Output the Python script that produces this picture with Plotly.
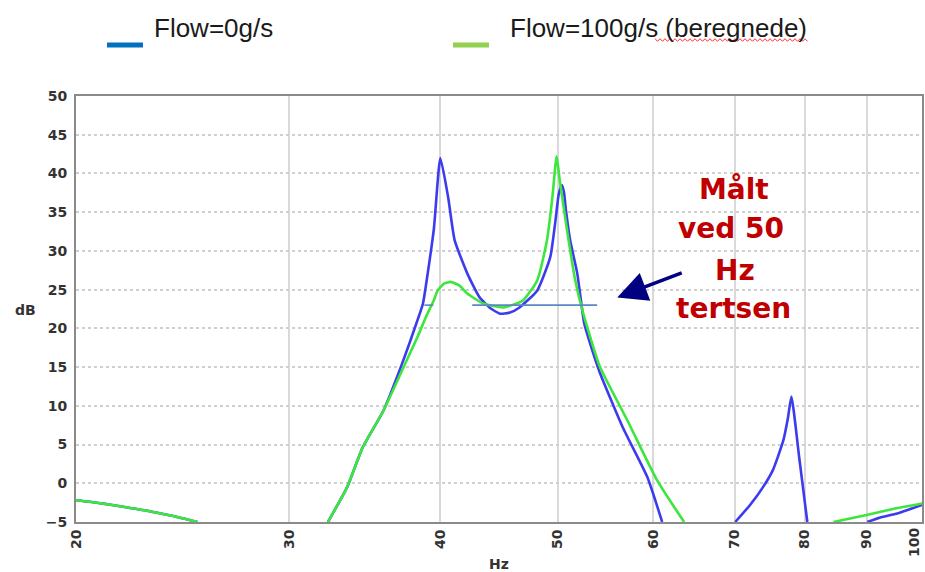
import numpy as np
import plotly.graph_objects as go

# ---------------- data ----------------
# Flow = 0 g/s (measured) - segments separated by None where curve is below -5 dB
flow0_hz = [20, 21, 22, 23, 24, 25.2, None,
            32.3, 33.5, 34.5, 35.9, 37.1, 37.8, 38.5, 38.7, 39.5, 40.0, 40.6, 41.1, 42.1,
            43.1, 44.0, 44.8, 45.6, 46.5, 48.1, 49.3, 49.8, 50.1, 50.4, 50.6, 50.8, 51.2,
            51.9, 52.6, 53.4, 54.2, 56.6, 59.3, 61.0, None,
            70.1, 72.1, 73.9, 75.3, 76.8, 77.5, 78.0, 79.2, 80.4, None,
            90.1, 92.5, 95.4, 100]
flow0_db = [-2.2, -2.6, -3.1, -3.6, -4.2, -5.0, None,
            -5.0, -0.5, 4.6, 9.4, 15.0, 18.5, 22.1, 23.2, 32.7, 42.0, 36.9, 31.4, 27.1,
            24.0, 22.6, 21.9, 22.0, 22.7, 24.9, 29.2, 34.0, 37.3, 38.5, 37.6, 35.2, 31.4,
            27.1, 20.6, 17.2, 14.2, 7.2, 0.8, -5.0, None,
            -5.0, -2.8, -0.5, 1.7, 5.5, 8.5, 11.2, 3.1, -5.0, None,
            -5.0, -4.4, -3.9, -2.8]

# Flow = 100 g/s (calculated)
flow100_hz = [20, 21, 22, 23, 24, 25.2, None,
              32.3, 33.5, 34.5, 35.9, 37.1, 38.3, 38.9, 39.5, 39.8, 40.3, 40.8, 41.5, 42.1,
              43.4, 45.1, 46.8, 48.1, 49.0, 49.5, 49.9, 50.2, 50.9, 51.7, 52.5, 54.2,
              57.1, 60.4, 63.6, None,
              84.5, 90.0, 95.4, 100]
flow100_db = [-2.2, -2.6, -3.1, -3.6, -4.2, -5.0, None,
              -5.0, -0.5, 4.6, 9.4, 14.2, 18.9, 21.4, 23.6, 24.9, 25.8, 26.0, 25.5, 24.5,
              23.2, 22.7, 23.6, 26.2, 31.4, 36.9, 42.2, 39.1, 32.7, 26.2, 21.9, 15.0,
              8.1, 0.4, -5.0, None,
              -5.0, -4.1, -3.2, -2.6]

# 1/3-octave level measured at 50 Hz
level_hz = [42.5, 53.9]
level_db = [23.0, 23.0]
level_dash_hz = [38.8, 39.9]
level_dash_db = [23.0, 23.0]

x_ticks = [20, 30, 40, 50, 60, 70, 80, 90, 100]
x_ticklabels = ["20", "30", "40", "50", "60", "70", "80", "90", "100"]
y_ticks = list(range(-5, 55, 5))

legend_names = ["Flow=0g/s", "Flow=100g/s (beregnede)"]
note_lines = ["Målt", "ved 50", "Hz", "tertsen"]
arrow_tip = (56.0, 24.0)

# ---------------- figure ----------------
W, H = 925, 572
ML, MR, MT, MB = 76, 3, 96, 50
PW, PH = W - ML - MR, H - MT - MB


def px_to_paper(px, py):
    return (px - ML) / PW, (H - MB - py) / PH


fig = go.Figure()
fig.add_trace(go.Scatter(x=flow0_hz, y=flow0_db, mode="lines",
                         line=dict(color="#3c3cee", width=2.6, shape="spline", smoothing=0.5),
                         connectgaps=False, showlegend=False))
fig.add_trace(go.Scatter(x=flow100_hz, y=flow100_db, mode="lines",
                         line=dict(color="#3ce63c", width=2.6, shape="spline", smoothing=0.5),
                         connectgaps=False, showlegend=False))
fig.add_trace(go.Scatter(x=level_hz, y=level_db, mode="lines",
                         line=dict(color="#5b87c5", width=1.6), showlegend=False))
fig.add_trace(go.Scatter(x=level_dash_hz, y=level_dash_db, mode="lines",
                         line=dict(color="#5b87c5", width=1.6, dash="dash"), showlegend=False))

# the last tick label (at the very right edge) is drawn as an annotation so it stays inside
axis_ticktext = x_ticklabels[:-1] + [""]
tickfont = dict(family="DejaVu Sans", size=14, color="#333333", weight="bold")

fig.update_xaxes(type="log", range=[np.log10(20), np.log10(100)],
                 tickvals=x_ticks, ticktext=axis_ticktext, tickangle=-90,
                 tickfont=tickfont, automargin=False,
                 showgrid=True, gridcolor="#d9d9d9", gridwidth=1.5,
                 showline=True, linecolor="#8a8a8a", linewidth=2, mirror=True,
                 ticks="", zeroline=False)
fig.update_yaxes(range=[-5, 50], tickvals=y_ticks, automargin=False,
                 tickfont=tickfont,
                 showgrid=True, gridcolor="#cfcfcf", gridwidth=1.5, griddash="dot",
                 showline=True, linecolor="#8a8a8a", linewidth=2, mirror=True,
                 ticks="", zeroline=False, ticklabelstandoff=4)

annotations = []
shapes = []

lx, ly = px_to_paper(914, 543)
annotations.append(dict(xref="paper", yref="paper", x=lx, y=ly, text=f"<b>{x_ticklabels[-1]}</b>",
                        textangle=-90, showarrow=False, xanchor="center", yanchor="middle",
                        font=dict(family="DejaVu Sans", size=14, color="#333333")))

# legend (custom, text above-right of the swatch)
legend_colors = ["#0070c0", "#92d050"]
legend_swatch_px = [(107, 143), (453, 489)]
legend_text_px = [152, 508]
for name, col, (sx0, sx1), tx in zip(legend_names, legend_colors, legend_swatch_px, legend_text_px):
    x0, y0 = px_to_paper(sx0, 45)
    x1, _ = px_to_paper(sx1, 45)
    shapes.append(dict(type="line", xref="paper", yref="paper", x0=x0, x1=x1, y0=y0, y1=y0,
                       line=dict(color=col, width=5)))
    txp, typ = px_to_paper(tx, 28)
    annotations.append(dict(xref="paper", yref="paper", x=txp, y=typ, xanchor="left",
                            yanchor="middle", text=name, showarrow=False,
                            font=dict(family="Liberation Sans, Arial", size=26, color="#1a1a1a")))

# red spell-check squiggle under "beregnede"
pts = []
for i, px in enumerate(np.arange(655, 809, 2.5)):
    py = 40 + (1.3 if i % 2 else -1.3)
    pxp, pyp = px_to_paper(px, py)
    pts.append(f"{pxp:.5f},{pyp:.5f}")
shapes.append(dict(type="path", xref="paper", yref="paper",
                   path="M" + " L".join(pts), line=dict(color="#ff3030", width=1)))

# axis titles
dbx, dby = px_to_paper(25, 310)
annotations.append(dict(xref="paper", yref="paper", x=dbx, y=dby, text="<b>dB</b>",
                        showarrow=False, xanchor="center", yanchor="middle",
                        font=dict(family="DejaVu Sans", size=14, color="#333333")))
hzx, hzy = px_to_paper(499, 564)
annotations.append(dict(xref="paper", yref="paper", x=hzx, y=hzy, text="<b>Hz</b>",
                        showarrow=False, xanchor="center", yanchor="middle",
                        font=dict(family="DejaVu Sans", size=14, color="#333333")))

# red note
note_pos = [(734, 189), (731, 229), (735, 270), (733, 308)]
for line, (nx, ny) in zip(note_lines, note_pos):
    xp, yp = px_to_paper(nx, ny)
    annotations.append(dict(xref="paper", yref="paper", x=xp, y=yp, text=f"<b>{line}</b>",
                            showarrow=False, xanchor="center", yanchor="middle",
                            font=dict(family="DejaVu Sans", size=28, color="#c00000")))

# arrow
annotations.append(dict(x=np.log10(arrow_tip[0]), y=arrow_tip[1], xref="x", yref="y",
                        ax=66, ay=-25, axref="pixel", ayref="pixel", text="",
                        showarrow=True, arrowhead=2, arrowsize=1.7, arrowwidth=3.5,
                        arrowcolor="#000080", standoff=0))

fig.update_layout(width=W, height=H, margin=dict(l=ML, r=MR, t=MT, b=MB),
                  paper_bgcolor="white", plot_bgcolor="white",
                  annotations=annotations, shapes=shapes, showlegend=False)

fig.write_html("out.html")
